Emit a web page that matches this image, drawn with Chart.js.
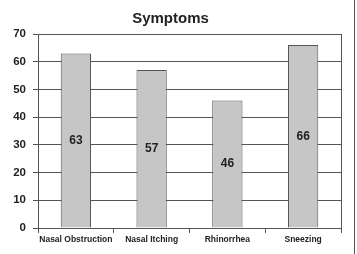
<!DOCTYPE html>
<html>
<head>
<meta charset="utf-8">
<script src="https://cdn.jsdelivr.net/npm/chart.js@4"></script>
<style>
  html, body { margin: 0; padding: 0; background: #fff; }
  #wrap { width: 354px; height: 254px; border-right: 1px solid #555; }
</style>
</head>
<body>
<div id="wrap"><canvas id="barChart" width="354" height="254"></canvas></div>
<script>
const symptoms = ['Nasal Obstruction', 'Nasal Itching', 'Rhinorrhea', 'Sneezing'];
const counts = [63, 57, 46, 66];
const yTicks = [0, 10, 20, 30, 40, 50, 60, 70];

const font = 'Liberation Sans, Arial, sans-serif';

// value written in the middle of each bar
const midLabels = {
    id: 'midLabels',
    afterDatasetsDraw(chart) {
        const ctx = chart.ctx;
        const meta = chart.getDatasetMeta(0);
        ctx.save();
        ctx.font = 'bold 12px ' + font;
        ctx.fillStyle = '#222';
        ctx.textAlign = 'center';
        ctx.textBaseline = 'middle';
        meta.data.forEach((bar, i) => {
            ctx.fillText(counts[i], bar.x, (bar.y + bar.base) / 2);
        });
        ctx.restore();
    }
};

// closing line on the right of the plot
const rightEdge = {
    id: 'rightEdge',
    beforeDatasetsDraw(chart) {
        const a = chart.chartArea;
        const ctx = chart.ctx;
        ctx.save();
        ctx.strokeStyle = '#555';
        ctx.lineWidth = 1;
        ctx.beginPath();
        ctx.moveTo(Math.round(a.right) + 0.5, a.top);
        ctx.lineTo(Math.round(a.right) + 0.5, a.bottom);
        ctx.stroke();
        ctx.restore();
    }
};

new Chart(document.getElementById('barChart'), {
    type: 'bar',
    data: {
        labels: symptoms,
        datasets: [{
            data: counts,
            backgroundColor: '#c6c6c6',
            borderColor: '#555',
            borderWidth: 1,
            barPercentage: 0.4,
            categoryPercentage: 1
        }]
    },
    options: {
        responsive: false,
        animation: false,
        layout: { padding: { left: 0, right: 13, top: 0, bottom: 0 } },
        plugins: {
            legend: { display: false },
            tooltip: { enabled: false },
            title: {
                display: true,
                text: 'Symptoms',
                color: '#222',
                font: { family: font, size: 15, weight: 'bold' },
                padding: { top: 10, bottom: 6 }
            }
        },
        scales: {
            x: {
                afterFit: s => { s.height = 26; },
                grid: { drawOnChartArea: false, tickLength: 5, color: '#555' },
                border: { color: '#555' },
                ticks: {
                    color: '#222',
                    padding: 2,
                    maxRotation: 0,
                    autoSkip: false,
                    font: { family: font, size: 8.5, weight: 'bold' }
                }
            },
            y: {
                min: 0,
                max: 70,
                afterFit: s => { s.width = 38; },
                afterBuildTicks: s => { s.ticks = yTicks.map(v => ({ value: v })); },
                grid: { color: '#555', tickLength: 5 },
                border: { color: '#555' },
                ticks: {
                    color: '#222',
                    padding: 7,
                    font: { family: font, size: 11.5, weight: 'bold' }
                }
            }
        }
    },
    plugins: [midLabels, rightEdge]
});
</script>
</body>
</html>
